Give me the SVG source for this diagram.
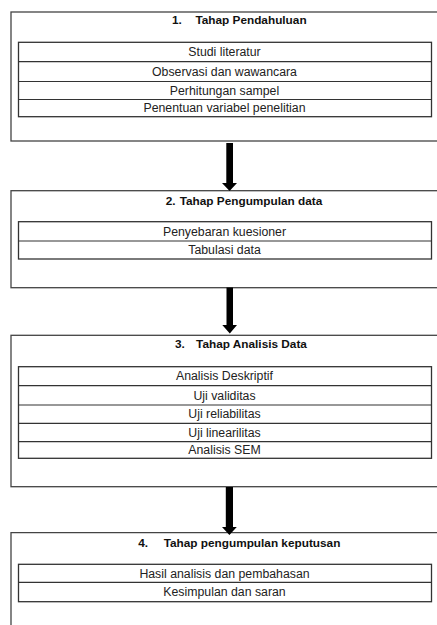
<svg xmlns="http://www.w3.org/2000/svg" width="437" height="625" viewBox="0 0 437 625">
<style>
.outer{fill:none;stroke:#444;stroke-width:1.3}
.inner{fill:none;stroke:#333;stroke-width:1.3}
.row{stroke:#333;stroke-width:1.2}
.t{font-family:"Liberation Sans",Arial,sans-serif;font-size:12.3px;fill:#222;text-anchor:middle}
.h{font-family:"Liberation Sans",Arial,sans-serif;font-size:11.8px;font-weight:bold;fill:#111}
.hm{text-anchor:middle}
.arr{fill:#000}
</style>
<rect width="437" height="625" fill="#fff"/>
<g id="node1">
<rect class="outer" x="11" y="12" width="440" height="129"/>
<text class="h" x="172" y="24">1.</text>
<text class="h hm" x="251" y="24">Tahap Pendahuluan</text>
<rect class="inner" x="18.5" y="42.3" width="413" height="74.4"/>
<line class="row" x1="18.5" y1="61.7" x2="431.5" y2="61.7"/>
<line class="row" x1="18.5" y1="81.5" x2="431.5" y2="81.5"/>
<line class="row" x1="18.5" y1="99.5" x2="431.5" y2="99.5"/>
<text class="t" x="224.5" y="56.3">Studi literatur</text>
<text class="t" x="224.5" y="75.8">Observasi dan wawancara</text>
<text class="t" x="224.5" y="94.7">Perhitungan sampel</text>
<text class="t" x="224.5" y="112.3">Penentuan variabel penelitian</text>
</g>
<g id="node2">
<rect class="outer" x="11" y="190.7" width="440" height="97"/>
<text class="h" x="165.7" y="205">2.</text>
<text class="h hm" x="251" y="205">Tahap Pengumpulan data</text>
<rect class="inner" x="18.5" y="221.7" width="413" height="37.3"/>
<line class="row" x1="18.5" y1="241" x2="431.5" y2="241"/>
<text class="t" x="224.5" y="235.5">Penyebaran kuesioner</text>
<text class="t" x="224.5" y="254.2">Tabulasi data</text>
</g>
<g id="node3">
<rect class="outer" x="11" y="335.3" width="440" height="151.4"/>
<text class="h" x="175" y="348">3.</text>
<text class="h hm" x="251.5" y="348">Tahap Analisis Data</text>
<rect class="inner" x="18.5" y="366.7" width="413" height="91.6"/>
<line class="row" x1="18.5" y1="385.7" x2="431.5" y2="385.7"/>
<line class="row" x1="18.5" y1="405" x2="431.5" y2="405"/>
<line class="row" x1="18.5" y1="423.3" x2="431.5" y2="423.3"/>
<line class="row" x1="18.5" y1="441.7" x2="431.5" y2="441.7"/>
<text class="t" x="224.5" y="380.4">Analisis Deskriptif</text>
<text class="t" x="224.5" y="399.5">Uji validitas</text>
<text class="t" x="224.5" y="418.3">Uji reliabilitas</text>
<text class="t" x="224.5" y="436.7">Uji linearilitas</text>
<text class="t" x="224.5" y="454.2">Analisis SEM</text>
</g>
<g id="node4">
<path class="outer" d="M11 626 V532.7 H451"/>
<text class="h" x="138.3" y="546.5">4.</text>
<text class="h hm" x="252" y="546.5">Tahap pengumpulan keputusan</text>
<rect class="inner" x="18.5" y="564.3" width="413" height="37.4"/>
<line class="row" x1="18.5" y1="582.3" x2="431.5" y2="582.3"/>
<text class="t" x="224.5" y="577.6">Hasil analisis dan pembahasan</text>
<text class="t" x="224.5" y="596.4">Kesimpulan dan saran</text>
</g>
<g id="connectors">
<path class="arr" d="M226.3 143 H233 V183 H237 L229.6 191 L222 183 H226.3 Z"/>
<path class="arr" d="M226.5 287.5 H233 V325 H237 L229.8 333.5 L222.3 325 H226.5 Z"/>
<path class="arr" d="M225.8 487 H233 V527 H236.8 L229.4 535 L222 527 H225.8 Z"/>
</g>
</svg>
